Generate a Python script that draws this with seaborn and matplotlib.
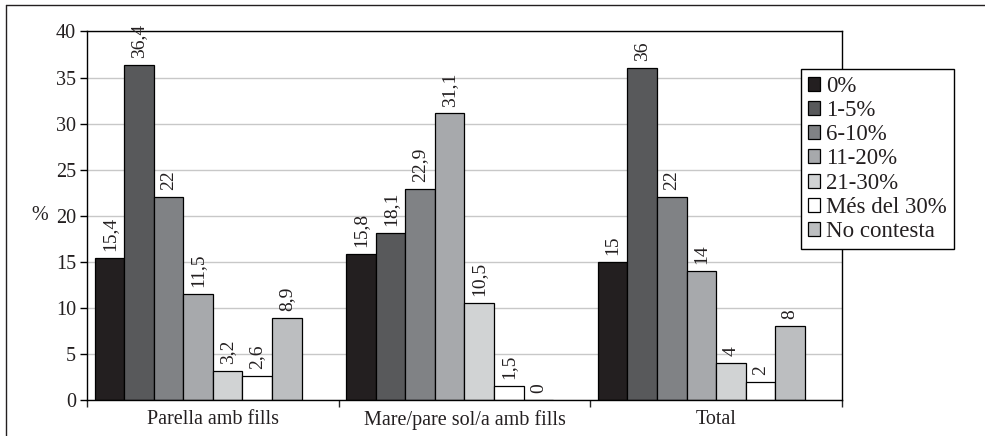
import matplotlib
matplotlib.use("Agg")
import matplotlib.pyplot as plt
import matplotlib.patches as mpatches
from matplotlib.lines import Line2D
import pandas as pd
import seaborn as sns

groups = ["Parella amb fills", "Mare/pare sol/a amb fills", "Total"]
levels = ["0%", "1-5%", "6-10%", "11-20%", "21-30%", "Més del 30%", "No contesta"]
parella = [15.4, 36.4, 22, 11.5, 3.2, 2.6, 8.9]
mare_pare = [15.8, 18.1, 22.9, 31.1, 10.5, 1.5, 0]
total = [15, 36, 22, 14, 4, 2, 8]
colors = ["#231f20", "#58595b", "#808285", "#a7a9ac", "#d1d3d4", "#ffffff", "#bcbec0"]

# long table for seaborn
rows = []
for g, vals in zip(groups, [parella, mare_pare, total]):
    for lvl, v in zip(levels, vals):
        rows.append({"grup": g, "nivell": lvl, "pct": v})
df = pd.DataFrame(rows)

# the original chart leaves an empty eighth slot in every group
hue_order = levels + [" "]
palette = colors + ["#ffffff"]

sns.set_style("white")
plt.rcParams["font.family"] = ["Liberation Serif", "DejaVu Serif"]
txt = "#231f20"

fig = plt.figure(figsize=(9.85, 4.36), dpi=100)
ax = fig.add_axes([87/985, 1-400/436, (842-87)/985, (400-31.5)/436])

sns.barplot(data=df, x="grup", y="pct", hue="nivell", order=groups,
            hue_order=hue_order, palette=palette, saturation=1,
            width=0.94, gap=0, edgecolor="black", linewidth=0.9,
            errorbar=None, legend=False, ax=ax)

for cont, lvl in zip(ax.containers, levels):
    vals = df[df.nivell == lvl].set_index("grup").loc[groups, "pct"]
    labs = [f"{v:g}".replace(".", ",") for v in vals]
    ax.bar_label(cont, labels=labs, rotation=90, padding=5, fontsize=14, color=txt)

ax.set_ylim(0, 40)
ax.set_yticks(range(0, 41, 5))
ax.yaxis.grid(True, color="#c8c8c8", lw=1)
ax.set_axisbelow(True)
ax.tick_params(axis="y", length=5, width=1, direction="out", colors="black",
               labelsize=14.5, labelcolor=txt, left=True, pad=3)

ax.set_xlim(-0.5, 2.5)
ax.set_xticks(range(3))
ax.set_xticklabels(groups)
ax.set_xticks([-0.5, 0.5, 1.5, 2.5], minor=True)
ax.tick_params(axis="x", which="major", length=0, pad=7, labelsize=14.5, labelcolor=txt)
ax.tick_params(axis="x", which="minor", length=5, width=1, direction="out", bottom=True)
ax.set_xlabel("")
ax.set_ylabel("%", rotation=0, fontsize=14.5, color=txt, va="center", ha="center")
ax.yaxis.set_label_coords(-0.063, 0.5)

for s in ax.spines.values():
    s.set_color("black")
    s.set_linewidth(1)

handles = [mpatches.Patch(facecolor=c, edgecolor="black", lw=0.9) for c in colors]
leg = ax.legend(handles, levels, loc="upper left",
                bbox_to_anchor=(801/985, 1-69/436), bbox_transform=fig.transFigure,
                borderaxespad=0, fontsize=16.5, frameon=True, fancybox=False,
                edgecolor="black", framealpha=1, handlelength=0.55, handleheight=0.55,
                handletextpad=0.25, labelspacing=0.14, borderpad=0.3)
leg.get_frame().set_linewidth(1)
for t in leg.get_texts():
    t.set_color(txt)

# outer frame of the figure
fig.add_artist(Line2D([6/985, 6/985], [0, 1-5/436], color="#231f20", lw=1, transform=fig.transFigure))
fig.add_artist(Line2D([6/985, 1], [1-5/436, 1-5/436], color="#231f20", lw=1, transform=fig.transFigure))

fig.savefig("out.png", dpi=100)
